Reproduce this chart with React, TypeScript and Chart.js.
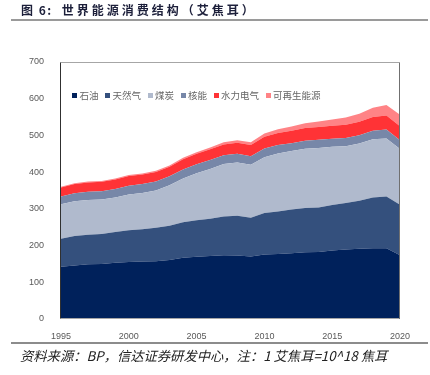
import React, { useEffect, useRef } from "react";
import { Chart, registerables } from "chart.js";

Chart.register(...registerables);

const years = ["1995","1996","1997","1998","1999","2000","2001","2002","2003","2004","2005","2006","2007","2008","2009","2010","2011","2012","2013","2014","2015","2016","2017","2018","2019","2020"];

const oil = [142.6,145.8,149.2,149.7,153.0,155.0,156.3,157.6,161.0,167.1,169.5,171.3,173.7,173.0,170.2,175.6,177.1,179.3,181.5,182.6,186.3,189.0,191.4,193.0,193.0,173.7];
const gas = [76.3,80.0,80.2,81.5,83.8,86.9,88.1,90.7,93.0,96.5,99.4,101.8,105.4,107.9,105.7,113.4,115.9,119.2,120.5,121.4,124.2,126.7,130.5,137.8,140.5,137.6];
const coal = [93.4,94.6,94.8,94.2,94.2,97.5,98.8,101.9,110.6,119.0,127.8,135.2,142.8,145.1,143.9,151.3,158.0,158.8,161.9,162.0,158.4,155.0,156.1,158.7,157.9,151.4];
const nuclear = [21.6,22.4,22.3,22.6,23.3,23.8,24.3,24.4,24.0,24.8,24.7,24.8,24.1,23.8,23.5,24.1,23.0,21.4,21.5,21.9,22.1,22.4,22.6,23.1,24.9,24.0];
const hydro = [24.6,25.1,25.5,25.6,25.9,26.4,25.9,26.1,26.2,27.6,28.4,29.1,29.5,30.4,30.5,32.2,32.6,33.8,34.8,35.3,35.3,36.3,36.6,37.5,37.7,38.2];
const renewables = [2.0,2.1,2.3,2.4,2.6,2.9,3.0,3.3,3.6,4.0,4.5,5.0,5.7,6.6,7.5,8.7,10.1,11.6,13.3,15.0,17.2,19.3,22.0,25.0,28.8,31.7];

const seriesNames = ["石油","天然气","煤炭","核能","水力电气","可再生能源"];
const seriesColors = ["#00215B","#34507D","#B0BACD","#7787A8","#FF3336","#FF8386"];
const seriesData = [oil, gas, coal, nuclear, hydro, renewables];

const yTicks = [0,100,200,300,400,500,600,700];
const xTickYears = ["1995","2000","2005","2010","2015","2020"];

const frame = {
  id: "frame",
  afterDraw(chart: any) {
    const { ctx, chartArea: a } = chart;
    ctx.save();
    ctx.lineWidth = 1;
    const L = Math.round(a.left) - 0.5, R = Math.round(a.right) - 0.5;
    const T = Math.round(a.top) + 0.5, B = Math.round(a.bottom) - 0.5;
    ctx.strokeStyle = "#a6a6a6";
    ctx.beginPath(); ctx.moveTo(L, T); ctx.lineTo(R, T); ctx.stroke();
    ctx.beginPath(); ctx.moveTo(L, B); ctx.lineTo(R, B); ctx.stroke();
    ctx.strokeStyle = "#707070";
    ctx.beginPath(); ctx.moveTo(R, T); ctx.lineTo(R, B); ctx.stroke();
    ctx.strokeStyle = "#303030";
    ctx.beginPath(); ctx.moveTo(L, T); ctx.lineTo(L, B); ctx.stroke();
    ctx.restore();
  },
};

export default function App() {
  const ref = useRef<HTMLCanvasElement>(null);
  useEffect(() => {
    document.body.style.margin = "0";
    const chart = new Chart(ref.current as HTMLCanvasElement, {
      type: "line",
      data: {
        labels: years,
        datasets: seriesData.map((d, i) => ({
          label: seriesNames[i],
          data: d,
          backgroundColor: seriesColors[i],
          borderColor: seriesColors[i],
          borderWidth: 0,
          pointRadius: 0,
          fill: i === 0 ? "origin" : "-1",
          tension: 0,
        })),
      },
      options: {
        animation: false,
        responsive: false,
        devicePixelRatio: 1,
        layout: { padding: { left: 16, right: 30, top: 62, bottom: 0 } },
        plugins: { legend: { display: false }, tooltip: { enabled: false } },
        scales: {
          x: {
            offset: false,
            grid: { display: false },
            border: { display: false },
            afterFit: (s: any) => { s.height = 56; },
            ticks: {
              autoSkip: false,
              maxRotation: 0,
              padding: 4,
              color: "#595959",
              font: { family: "Liberation Sans", size: 9 },
              callback: (v: any, i: number) => (xTickYears.includes(years[i]) ? years[i] : ""),
            },
          },
          y: {
            stacked: true,
            min: 0,
            max: 700,
            grid: { display: false },
            border: { display: false },
            afterFit: (s: any) => { s.width = 45; },
            afterBuildTicks: (s: any) => { s.ticks = yTicks.map((v) => ({ value: v })); },
            ticks: {
              padding: 9,
              color: "#595959",
              font: { family: "Liberation Sans", size: 9 },
            },
          },
        },
      },
      plugins: [frame],
    });
    return () => chart.destroy();
  }, []);

  return (
    <div style={{ position: "relative", width: 430, height: 375, background: "#fff", overflow: "hidden" }}>
      <canvas ref={ref} width={430} height={375} style={{ position: "absolute", left: 0, top: 0, width: 430, height: 375 }} />
      <div style={{ position: "absolute", left: 21, top: 2, fontFamily: "'Noto Sans CJK SC'", fontWeight: 700, fontSize: 12, lineHeight: "16px", color: "#1c1f3a", whiteSpace: "pre" }}>
        <span style={{ letterSpacing: 1.5 }}>{"图 6:"}</span>
        <span style={{ marginLeft: 9, letterSpacing: 3 }}>世界能源消费结构（艾焦耳）</span>
      </div>
      <div style={{ position: "absolute", left: 11, top: 19, width: 417, height: 2, background: "#9a9a9a" }} />
      <div style={{ position: "absolute", left: 72, top: 88, display: "flex", alignItems: "center", fontFamily: "'Noto Sans CJK SC'", fontSize: 9.5, lineHeight: "14px", color: "#666", whiteSpace: "nowrap" }}>
        {seriesNames.map((n, i) => (
          <div key={n} style={{ display: "flex", alignItems: "center", marginRight: 6.5 }}>
            <span style={{ display: "inline-block", width: 5, height: 5, background: seriesColors[i], marginRight: 2.5 }} />
            <span>{n}</span>
          </div>
        ))}
      </div>
      <div style={{ position: "absolute", left: 11, top: 342, width: 417, height: 1.5, background: "#8c8c8c" }} />
      <div style={{ position: "absolute", left: 20, top: 347, fontFamily: "'Noto Sans CJK SC'", fontStyle: "italic", fontSize: 13.3, lineHeight: "18px", color: "#222", whiteSpace: "nowrap" }}>
        资料来源：BP，信达证券研发中心，注：1 艾焦耳=10^18 焦耳
      </div>
    </div>
  );
}
